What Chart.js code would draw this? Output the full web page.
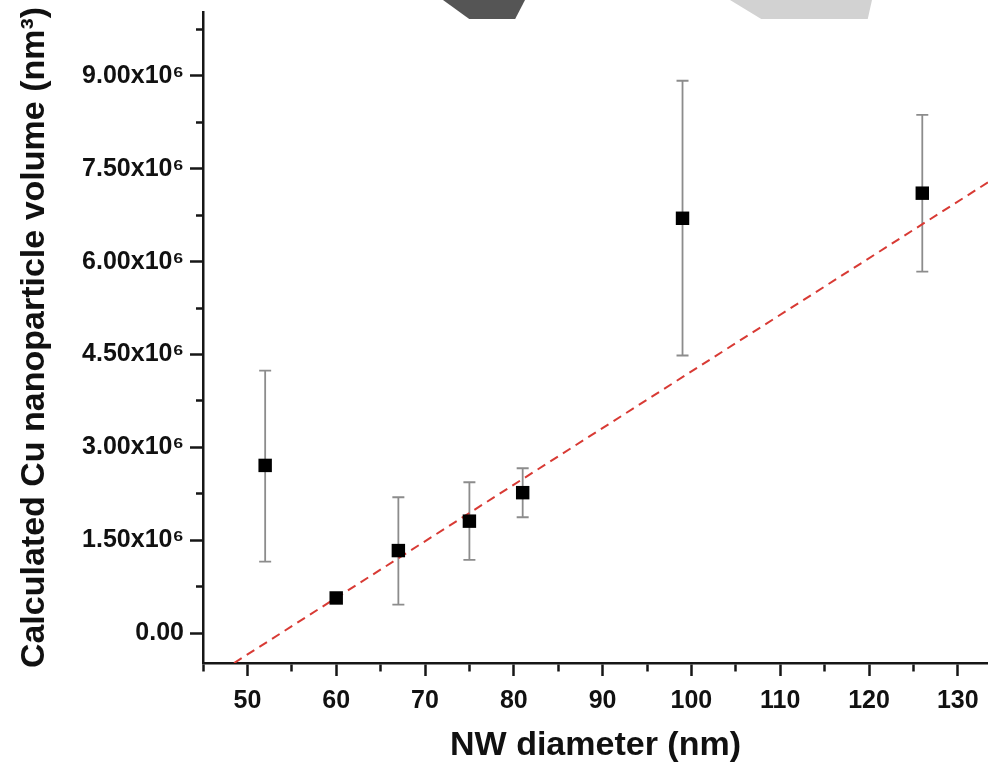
<!DOCTYPE html>
<html>
<head>
<meta charset="utf-8">
<script src="https://cdn.jsdelivr.net/npm/chart.js@4.4.0/dist/chart.umd.min.js"></script>
<style>
  html, body { margin: 0; padding: 0; background: #fff; }
  #wrap { position: relative; width: 988px; height: 776px; }
  .shape { position: absolute; top: 0; height: 19px; }
  #dark { left: 443px; width: 82px; background: #555; clip-path: polygon(0 0, 100% 0, 88% 100%, 32% 100%); }
  #light { left: 730px; width: 142px; background: #d2d2d2; clip-path: polygon(0 0, 100% 0, 97% 100%, 22% 100%); }
</style>
</head>
<body>
<div id="wrap">
  <canvas id="chart" width="988" height="776"></canvas>
  <div class="shape" id="dark"></div>
  <div class="shape" id="light"></div>
</div>
<script>
const diameters = [52, 60, 67, 75, 81, 99, 126];
const volumes = [2.71e6, 0.57e6, 1.335e6, 1.81e6, 2.27e6, 6.70e6, 7.105e6];
const errHigh = [4.24e6, 0.57e6, 2.196e6, 2.438e6, 2.664e6, 8.92e6, 8.37e6];
const errLow = [1.158e6, 0.57e6, 0.463e6, 1.185e6, 1.873e6, 4.484e6, 5.84e6];

// linear fit, ends
const fitX = [48.5, 133.4];
const fitY = [-0.48e6, 7.28e6];

const xTicks = [45, 50, 55, 60, 65, 70, 75, 80, 85, 90, 95, 100, 105, 110, 115, 120, 125, 130];
const xTickLabels = ['', '50', '', '60', '', '70', '', '80', '', '90', '', '100', '', '110', '', '120', '', '130'];
const yTicks = [0, 0.75e6, 1.5e6, 2.25e6, 3e6, 3.75e6, 4.5e6, 5.25e6, 6e6, 6.75e6, 7.5e6, 8.25e6, 9e6, 9.75e6];
const yTickLabels = ['0.00', '', '1.50x10⁶', '', '3.00x10⁶', '', '4.50x10⁶', '', '6.00x10⁶', '', '7.50x10⁶', '', '9.00x10⁶', ''];

const FONT = "'Liberation Sans', Arial, sans-serif";
const AXIS = '#161616';

// minor ticks: draw only the part next to the axis line
const minorDash = (labels, fromAxis) => (ctx) => {
  if (labels[ctx.index]) return [];
  return fromAxis ? [7, 40] : [0, 6, 7, 40];
};

const errorBars = {
  id: 'errorBars',
  beforeDatasetsDraw(chart) {
    const { ctx, scales: { x, y } } = chart;
    ctx.save();
    ctx.strokeStyle = '#8c8c8c';
    ctx.lineWidth = 1.8;
    diameters.forEach((d, i) => {
      if (errHigh[i] === errLow[i]) return;
      const px = x.getPixelForValue(d);
      const top = y.getPixelForValue(errHigh[i]);
      const bot = y.getPixelForValue(errLow[i]);
      ctx.beginPath();
      ctx.moveTo(px, top);
      ctx.lineTo(px, bot);
      ctx.moveTo(px - 6, top);
      ctx.lineTo(px + 6, top);
      ctx.moveTo(px - 6, bot);
      ctx.lineTo(px + 6, bot);
      ctx.stroke();
    });
    ctx.restore();
  },
};

new Chart(document.getElementById('chart'), {
  type: 'scatter',
  data: {
    datasets: [
      {
        label: 'Volume',
        data: diameters.map((d, i) => ({ x: d, y: volumes[i] })),
        pointStyle: 'rect',
        pointRadius: 9.5,
        backgroundColor: '#000',
        borderColor: '#000',
        borderWidth: 0,
        order: 0,
      },
      {
        label: 'Fit',
        data: fitX.map((d, i) => ({ x: d, y: fitY[i] })),
        showLine: true,
        pointRadius: 0,
        borderColor: '#d83a34',
        borderWidth: 2,
        borderDash: [9, 6],
        order: 1,
      },
    ],
  },
  options: {
    responsive: false,
    animation: false,
    layout: { autoPadding: false, padding: { top: 12, right: 0, left: 0, bottom: 0 } },
    plugins: { legend: { display: false }, tooltip: { enabled: false } },
    scales: {
      x: {
        type: 'linear',
        min: 45,
        max: 133.4,
        afterBuildTicks: (s) => { s.ticks = xTicks.map((v) => ({ value: v })); },
        afterFit: (s) => { s.height = 113; s.paddingRight = 0; s.paddingLeft = 0; },
        border: { display: true, color: AXIS, width: 2.5 },
        grid: {
          drawOnChartArea: false,
          drawTicks: true,
          tickLength: 13,
          tickWidth: 2.5,
          tickColor: AXIS,
          tickBorderDash: minorDash(xTickLabels, true),
        },
        ticks: {
          autoSkip: false,
          maxRotation: 0,
          padding: 10,
          color: '#111',
          font: { family: FONT, size: 25, weight: 'bold' },
          callback: (v, i) => xTickLabels[i],
        },
        title: {
          display: true,
          text: 'NW diameter (nm)',
          color: '#111',
          font: { family: FONT, size: 34, weight: 'bold' },
          padding: { top: 0, bottom: 10 },
        },
      },
      y: {
        type: 'linear',
        min: -0.48e6,
        max: 10.03e6,
        afterBuildTicks: (s) => { s.ticks = yTicks.map((v) => ({ value: v })); },
        afterFit: (s) => { s.width = 203; s.paddingTop = 0; s.paddingBottom = 0; },
        border: { display: true, color: AXIS, width: 2.5 },
        grid: {
          drawOnChartArea: false,
          drawTicks: true,
          tickLength: 13,
          tickWidth: 2.5,
          tickColor: AXIS,
          tickBorderDash: minorDash(yTickLabels, false),
        },
        ticks: {
          autoSkip: false,
          padding: 6,
          color: '#111',
          font: { family: FONT, size: 25, weight: 'bold' },
          callback: (v, i) => yTickLabels[i],
        },
        title: {
          display: true,
          text: 'Calculated Cu nanoparticle volume (nm³)',
          color: '#111',
          font: { family: FONT, size: 34, weight: 'bold' },
          padding: { top: 14, bottom: 0 },
        },
      },
    },
  },
  plugins: [errorBars],
});
</script>
</body>
</html>
